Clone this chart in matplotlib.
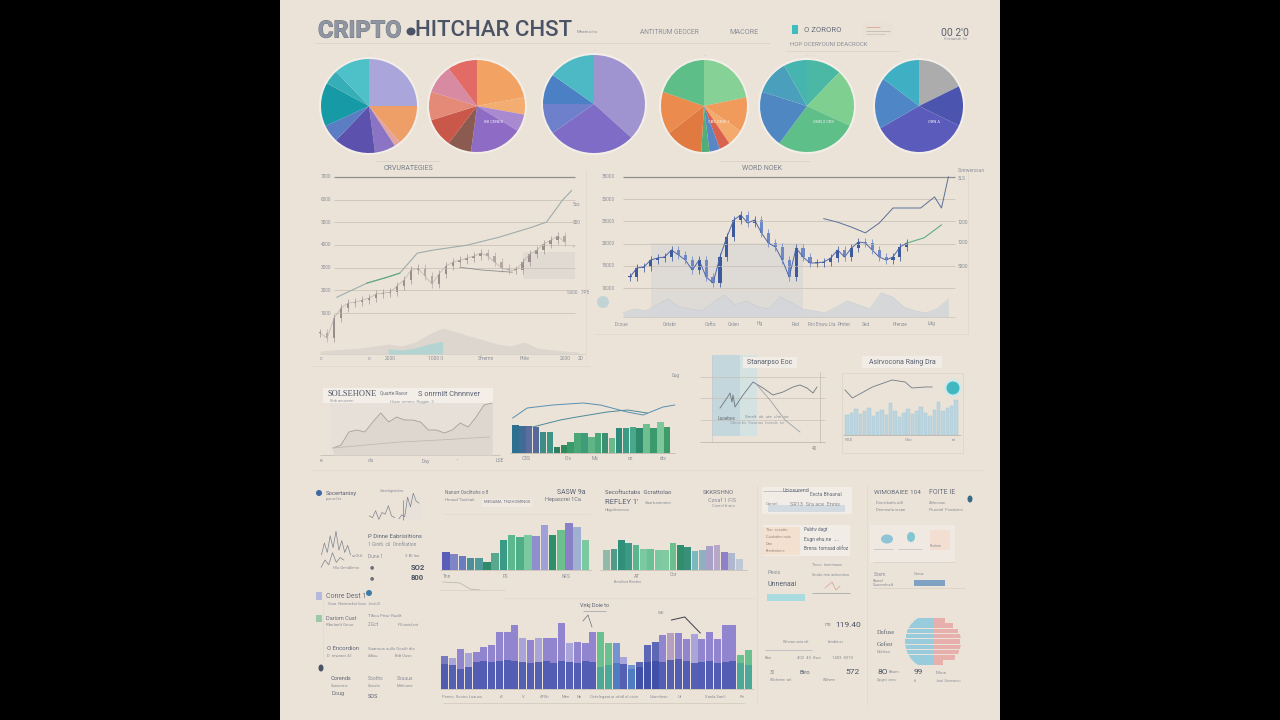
import matplotlib
matplotlib.use("Agg")
import matplotlib.pyplot as plt
from matplotlib import patheffects
from matplotlib.patches import Circle, Ellipse, Rectangle
import numpy as np

plt.rcParams["font.family"] = ["Roboto", "DejaVu Sans"]

W, H = 1280, 720
PAPER = "#ebe3d8"
INK = "#4b5366"
SOFT = "#8a8e98"
RULE = "#d2cabf"

# ---------------- data ----------------
# six pies, wedges listed clockwise from 12 o'clock
PIE_SHARES = [
    [25, 14, 2, 7, 14, 6, 15, 5, 12],
    [22, 6, 6, 18, 8, 10, 10, 10, 10],
    [37, 28, 10, 10, 15],
    [22, 12, 6, 4, 4, 3, 14, 15, 20],
    [12, 20, 28, 20, 12, 8],
    [18, 14, 35, 18, 15],
]
PIE_COLORS = [
    ["#aaa5da", "#ee9f68", "#e2a4a0", "#8c74c4", "#5c52ad", "#5a7dc4", "#169ba6", "#36aeb8", "#4ec0c8"],
    ["#f2a364", "#f3ad70", "#a98ad0", "#8e6cc6", "#8b5a50", "#c9574a", "#e58a76", "#d88aa3", "#e26b66"],
    ["#a094d0", "#7e6cc6", "#6e7fcc", "#4b80c4", "#4cb9c5"],
    ["#86d195", "#f09a5c", "#f3aa6c", "#d9624e", "#5a86c6", "#4fae7a", "#e07a40", "#eb8b4e", "#5dbf87"],
    ["#4ab8a5", "#7fcf90", "#5fbf88", "#4f87c2", "#4a9fbc", "#46b5b0"],
    ["#acacac", "#4b55b0", "#5b5bbb", "#4f86c6", "#3fb0c4"],
]
PIE_TAGS = ["", "INI CENES", "", "CBS ONIS 3", "ONN 2 CRS", "ORN A"]

# chart 1 (left price chart): daily closes, trend line, volume
LEVELS1 = [1000, 2000, 3000, 4000, 5000, 6000, 7000]
CLOSE1 = [120, -100, 780, 1220, 1440, 1480, 1570, 1660, 1840, 1880, 1920, 2190,
          2450, 2890, 2980, 2630, 2280, 2720, 3070, 3240, 3330, 3420, 3510, 3640,
          3510, 3240, 2980, 2890, 2890, 3240, 3600, 3770, 4040, 4210, 4390, 4120]
TREND1_DAY = [2.4, 6.7, 9.6, 11.4, 13.9, 16.1, 21, 25.7, 30.4, 32.4, 34.7, 36]
TREND1 = [1700, 2320, 2580, 2760, 3640, 3770, 3990, 4350, 4790, 5010, 5980, 6400]
LOW1_DAY = [20, 23, 27.5]
LOW1 = [3020, 2900, 2800]
VOL1 = [130, 180, 220, 260, 350, 440, 350, 530, 880, 1140, 970, 790, 620, 440, 350, 530, 260, 180, 130, 90]

# chart 2 (right price chart)
LEVELS2 = [10000, 15000, 20000, 25000, 30000, 35000]
CLOSE2 = [12480, 14500, 14730, 16300, 16750, 16980, 18550, 17430, 16300, 14050, 16300,
          12480, 11130, 16980, 21480, 25300, 26430, 24630, 25300, 22380, 20130, 19230,
          16300, 12480, 19000, 16980, 15630, 15630, 15850, 16750, 18550, 16980, 19000,
          20350, 20130, 18550, 16980, 16300, 16980, 19230, 20130]
TREND2_DAY = [28, 30, 32, 34, 36, 38, 42, 44, 45, 46]
TREND2 = [25600, 24800, 23700, 22400, 24600, 28000, 28000, 30500, 28000, 35000]
GREEN2_DAY = [40, 42.5, 45]
GREEN2 = [20100, 21300, 24200]
VOL2 = [900, 1800, 1350, 2700, 4000, 2250, 1800, 1350, 3150, 4950, 2700, 3600, 2250, 1800, 4500,
        3150, 1800, 1350, 900, 2250, 3600, 2700, 1800, 5400, 4500, 2250, 1350, 900, 1800, 4050]
VOL2_BASE = 3500

# middle row
AREA_A = [7, 10, 23, 25, 23, 33, 42, 33, 38, 35, 35, 33, 25, 25, 22, 25, 32, 28, 38, 50, 52]
LOW_A_DAY = [0, 8.4, 13.4, 19.7]
LOW_A = [7, 13, 15, 18]

BARS_B = [28, 27, 27, 26, 21, 21, 6, 8, 11, 20, 20, 16, 20, 20, 15, 25, 25, 26, 25, 29, 25, 31, 26]
LINE_B1_DAY = [-0.4, 1.7, 5.4, 9.8, 12.3, 16.2, 18.5, 21.4, 23.1]
LINE_B1 = [35, 45, 48, 50, 48, 41, 38, 46, 48]
LINE_B2_DAY = [2.5, 6.5, 8.9, 13.3, 16.2, 19.1]
LINE_B2 = [26, 33, 36, 41, 43, 40]

LINE_C_T = [0, 1.4, 2, 2.4, 2.6, 3, 4.6, 6.6, 8.6, 10.6, 12.6, 14.6, 16, 17.4, 18.6, 19.4]
LINE_C = [37, 47, 52, 43, 50, 38, 50, 63, 57, 50, 53, 58, 60, 57, 52, 58]
DESC_C_T = [7.4, 10, 13, 16]
DESC_C = [60, 45, 25, 13]

BARS_D = [20, 22, 26, 21, 24, 27, 19, 23, 25, 20, 32, 24, 18, 22, 26, 21, 24, 28, 22, 19, 25, 33, 24, 27, 29, 35]
LINE_D_T = [-0.5, 1.2, 5.8, 10.3, 13.3, 14.9, 17.9, 19.5]
LINE_D = [45, 37, 48, 55, 53, 47, 48, 48]

# bottom bar charts
BARS_E = [18, 16, 14, 12, 12, 8, 17, 30, 35, 33, 35, 34, 45, 35, 40, 47, 43, 30]
BARS_F = [20, 21, 30, 27, 25, 21, 21, 20, 20, 27, 25, 23, 19, 20, 24, 25, 18, 17, 11]
BARS_G = [33, 31, 40, 36, 37, 42, 44, 57, 57, 64, 51, 49, 51, 51, 51, 66, 46, 47, 46, 57,
          57, 46, 46, 32, 24, 27, 44, 47, 54, 56, 56, 50, 55, 50, 57, 50, 64, 64, 34, 39]
BARS_G_BASE = [25, 24, 20, 22, 27, 28, 27, 28, 29, 28, 27, 26, 27, 28, 26, 28, 27, 26, 28, 27,
               22, 24, 26, 25, 20, 22, 27, 28, 27, 29, 30, 28, 26, 27, 28, 26, 27, 28, 26, 24]
PEAK_G_DAY = [29.1, 30.8, 32.8]
PEAK_G = [69, 72, 56]

SPARKS = [
    [4, 9, 5, 12, 7, 14, 6, 10, 5, 8, 4],
    [6, 5, 9, 4, 8, 7, 12, 6, 5],
    [3, 5, 4, 14, 9, 16, 12, 11],
    [3, 6, 4, 9, 5, 7, 6],
]
STRIPE_BLUE = [22, 26, 27, 28, 28, 27, 26, 24, 20]
STRIPE_PINK = [10, 22, 26, 28, 27, 28, 25, 20, 12]

# ---------------- colours per bar ----------------
COL_B = ["#2d6f8f", "#3f6b96", "#5b6d9c", "#58689a", "#3e8c86", "#3f9488", "#2f7d62", "#2f8a5c",
         "#3b9a6a", "#4aa877", "#3f9c7a", "#5fb585", "#48a878", "#3a9070", "#6ab98a", "#2e8a7a",
         "#3d9a84", "#4aa88a", "#2e8a6a", "#6cc08f", "#3a9a6e", "#7dc89a", "#3f9c6a"]
COL_E = ["#5a5eb8", "#7f86c8", "#6a7cc0", "#4a8f9a", "#4f9a9a", "#2f8a6a", "#58a890", "#3a9a85",
         "#5cb88e", "#4fae86", "#7ac9a0", "#8f8fd0", "#a0a0d8", "#2e8f6a", "#6bc08e", "#8a80c8",
         "#a0b0d0", "#7ac9a0"]
COL_F = ["#8fbcaa", "#4f9a8a", "#2f8f78", "#3a9a85", "#5ab590", "#7ac9a0", "#6cc096", "#7ac9a0",
         "#80cba4", "#6bc08e", "#2e8f6a", "#3a8f7a", "#7ab9c0", "#8fb0c0", "#a8a0c8", "#b8a8c8",
         "#9080c8", "#b0b8d0", "#c0c8d8"]
_P, _L, _G, _S, _K, _D = "#8d80d0", "#a7a2d9", "#62c08c", "#6f8fcf", "#b49cc0", "#5560b4"
COL_G = ["#6f74c0", _L, _P, _L, _P, _P, _P, _P, _P, _P, _L, _P, _L, _P, _P, _P, _L, _P, _P, _P,
         _G, _G, _S, _L, _S, _D, _D, _D, _P, _K, _P, _P, _L, _P, _P, _P, _P, _P, _G, _G]
BASE_OF = {_G: "#47a79a", _S: "#4a7cc0", _D: "#3d4ea8"}

# ---------------- figure ----------------
fig = plt.figure(figsize=(W / 100, H / 100), dpi=100, facecolor="black")
board = fig.add_axes([280 / W, 0, 720 / W, 1])
board.set_xlim(280, 1000)
board.set_ylim(720, 0)
board.axis("off")
board.add_patch(Rectangle((280, 0), 720, 720, color=PAPER, lw=0, zorder=0))


def panel(x0, y0, x1, y1):
    ax = fig.add_axes([x0 / W, 1 - y1 / H, (x1 - x0) / W, (y1 - y0) / H])
    ax.set_facecolor("none")
    ax.axis("off")
    return ax


def note(x, y, s, size=4.5, color=SOFT, **kw):
    kw.setdefault("va", "center")
    board.text(x, y, s, fontsize=size, color=color, **kw)


def hline(x0, x1, y, color=RULE, lw=0.6):
    board.plot([x0, x1], [y, y], color=color, lw=lw, solid_capstyle="butt")


def vline(x, y0, y1, color=RULE, lw=0.6):
    board.plot([x, x], [y0, y1], color=color, lw=lw, solid_capstyle="butt")


def card(x0, y0, x1, y1, color="#f2ede6", **kw):
    board.add_patch(Rectangle((x0, y0), x1 - x0, y1 - y0, color=color, lw=0, **kw))


def candles(ax, closes, col_up, col_dn, body, wick, width=0.5, lw=0.6):
    for i, c in enumerate(closes):
        o = closes[i - 1] if i else c
        lo, hi = min(o, c), max(o, c)
        col = col_up if c >= o else col_dn
        ax.vlines(i, lo - wick, hi + wick, color=col, lw=lw)
        ax.add_patch(Rectangle((i - width / 2, lo), width, max(hi - lo, body), color=col, lw=0))


# ---------------- header ----------------
title = board.text(318, 31, "CRIPTO", fontsize=17, fontweight="bold", color="#8f95a1", va="center")
title.set_path_effects([patheffects.withStroke(linewidth=0.7, foreground="#6d7582")])
board.add_patch(Ellipse((411, 31.5), 9, 8, color="#4b5366", lw=0))
board.text(415, 31, "HITCHAR CHST", fontsize=16, fontweight="medium", color="#4b5366", va="center")
hline(315, 770, 43, color="#ddd5ca", lw=0.8)
note(577, 32, "Mnatns/no", 3.2)
note(640, 32, "ANTITRUM GEOCER", 4.8)
note(729, 32, "MACORE", 5.2)
card(792, 25, 798, 34, color="#3fbcc0")
note(804, 30, "O ZORORO", 5.5, color="#6a6f7c")
card(862, 23, 893, 37, color="#e9e1d6")
hline(866, 880, 27, color="#d99a8a", lw=0.5)
hline(866, 890, 31, color="#b8b2aa", lw=0.5)
hline(866, 885, 34, color="#c9c2b8", lw=0.5)
note(790, 45, "HOP OCER", 4.3)
note(818, 45, "YOUNI DEACROCK", 4.3)
hline(785, 900, 51, color="#ddd5ca", lw=0.6)
note(941, 33, "00 2'0", 7.5, color="#5b6272")
note(944, 39, "Hoiruwnsh 1in", 2.6)

# ---------------- pies ----------------
PIE_BOXES = [(369, 106, 48, 47), (477, 106, 48, 46), (594, 104, 51, 49),
             (704, 106, 43, 46), (807, 106, 47, 46), (919, 106, 44, 46)]
for (cx, cy, rx, ry), shares, cols, tag in zip(PIE_BOXES, PIE_SHARES, PIE_COLORS, PIE_TAGS):
    board.add_patch(Ellipse((cx, cy), 2 * rx + 4, 2 * ry + 4, color="#f3eee8", lw=0))
    ax = panel(cx - rx, cy - ry, cx + rx, cy + ry)
    ax.pie(shares, colors=cols, startangle=90, counterclock=False,
           wedgeprops={"linewidth": 0})
    ax.set_aspect("auto")
    ax.set_xlim(-1, 1)
    ax.set_ylim(-1, 1)
    if tag:
        ax.text(0.35, -0.35, tag, fontsize=3, color="#f4f0f6", ha="center", va="center")
    note(cx, cy - ry - 4, "\u2014", 3, color="#c9c1b6", ha="center")

# ---------------- chart 1 ----------------
note(408, 168, "CRVURATEGIES", 5, color="#7a808c", ha="center")
hline(375, 440, 161, color="#d8d0c5", lw=0.5)
ax1 = panel(318, 170, 585, 354)
ax1.set_xlim(-0.3, 37.9)
ax1.set_ylim(-800, 7300)
for lvl in LEVELS1:
    top = lvl == LEVELS1[-1]
    ax1.hlines(lvl, 2, 36.5, color="#8f8f90" if top else "#cbc3b8", lw=0.9 if top else 0.6)
    ax1.text(0.1, lvl, f"{lvl}", fontsize=3.4, color=SOFT, va="center")
vol_x = np.linspace(0, 37, len(VOL1))
ax1.fill_between(vol_x, -800, np.array(VOL1) - 800, color="#dcd6ce", lw=0)
ax1.fill_between(vol_x[5:10], -800, np.array(VOL1[5:10]) * 0.5 - 800, color="#a9d4d2", lw=0, alpha=0.8)
ax1.fill_between([29, 36.5], 2500, 3700, color="#e0dad2", lw=0)
ax1.plot(range(len(CLOSE1)), CLOSE1, color="#bdb3af", lw=0.5)
candles(ax1, CLOSE1, "#9a8f8c", "#b3a6a3", body=60, wick=170, width=0.4, lw=0.45)
ax1.plot(TREND1_DAY, TREND1, color="#9fadab", lw=0.8)
ax1.plot(TREND1_DAY[1:4], TREND1[1:4], color="#5eaa80", lw=0.8)
ax1.plot(LOW1_DAY, LOW1, color="#8d8d8d", lw=0.6)
for x, y, s in [(573, 204, "5ss"), (573, 223, "500"), (573, 247, "\u2022"), (567, 292, "5000   7P5")]:
    note(x, y, s, 3.4)
for x, s in [(320, "c"), (368, "c\u00b7"), (385, "2000"), (428, "1000 ll"), (478, "Sfremn"), (520, "Ptile"),
             (560, "2000"), (578, "2D")]:
    note(x, 359, s, 3.6)
hline(320, 585, 354, color="#cfc7bc", lw=0.5)
hline(312, 590, 366, color="#ddd5ca", lw=0.5)
vline(586, 170, 360, color="#e0d8cd", lw=0.5)

# ---------------- chart 2 ----------------
note(762, 168, "WORD NOEK", 5, color="#7a808c", ha="center")
hline(720, 810, 161, color="#d8d0c5", lw=0.5)
note(958, 170, "Sorrwerssun", 3.4)
ax2 = panel(600, 170, 965, 325)
ax2.set_xlim(-4.33, 48.4)
ax2.set_ylim(1675, 36550)
for lvl in LEVELS2:
    top = lvl == LEVELS2[-1]
    ax2.hlines(lvl, -1, 47, color="#8f8f90" if top else "#cbc3b8", lw=0.9 if top else 0.6)
    ax2.text(-4.1, lvl, f"{lvl}", fontsize=3.4, color=SOFT, va="center")
ax2.fill_between([3, 25], 3500, 20100, color="#dbd8d5", lw=0, alpha=0.8)
vol2_x = np.linspace(-1, 46, len(VOL2))
ax2.fill_between(vol2_x, VOL2_BASE, np.array(VOL2) + VOL2_BASE, color="#d3d6da", lw=0, alpha=0.9)
ax2.plot(vol2_x, np.array(VOL2) + VOL2_BASE, color="#c3cad3", lw=0.4)
ax2.hlines(VOL2_BASE, -1, 47, color="#cbc3b8", lw=0.5)
ax2.plot(range(len(CLOSE2)), CLOSE2, color="#4f67aa", lw=0.7)
candles(ax2, CLOSE2, "#3d5a9e", "#6f88c6", body=300, wick=900, width=0.45, lw=0.55)
ax2.plot(TREND2_DAY, TREND2, color="#5b6f98", lw=0.7)
ax2.plot(GREEN2_DAY, GREEN2, color="#5fae80", lw=0.8)
for x, y, s in [(958, 178, "3LS"), (958, 222, "1200"), (958, 243, "1200"), (958, 266, "5000")]:
    note(x, y, s, 3.4)
for x, s in [(615, "Dcoue"), (663, "Cetsbr"), (705, "Cafto"), (728, "Oxlen"), (757, "Hg"),
             (792, "Fed"), (808, "Rni Enwu Lta"), (838, "Pmter"), (862, "Sed"), (893, "Prenze"), (928, "Ldg")]:
    note(x, 324, s, 3.4)
board.add_patch(Circle((603, 302), 6, color="#b7d0d4", lw=0, alpha=0.8))
hline(595, 968, 334, color="#ddd5ca", lw=0.5)
vline(968, 172, 334, color="#ddd5ca", lw=0.5)

# ---------------- middle row ----------------
# A: area sketch with header boxes
card(323, 388, 493, 403, color="#f3eee7")
card(330, 403, 493, 452, color="#e6e0d8")
board.text(327, 394, "SOLSEHONE", fontsize=6, color="#4b5366", va="center", family=["Liberation Serif", "DejaVu Serif"])
note(380, 393, "Quarte Ravor", 3.4, color="#6a6f7c")
note(418, 394, "S onrrnilt Chnnnver", 5.3, color="#5b6272")
note(330, 401, "Rnb aeuvenn", 3, color="#9a9ea8")
note(390, 402, "Hiaar  nnrnns  Rrggan  3", 3, color="#9a9ea8")
axA = panel(320, 400, 500, 458)
axA.set_xlim(-1.64, 21)
axA.set_ylim(-3, 55)
axA.fill_between(range(len(AREA_A)), 0, AREA_A, color="#ddd7cf", lw=0)
axA.plot(range(len(AREA_A)), AREA_A, color="#a59e99", lw=0.6)
axA.plot(LOW_A_DAY, LOW_A, color="#c2bbb3", lw=0.6)
hline(320, 500, 455, color="#c0b8ad", lw=0.5)
for x, s in [(320, "e"), (368, "cls"), (422, "Day"), (457, "\u02bb"), (496, "LSE")]:
    note(x, 461, s, 3.6)

# B: bars with two lines
note(672, 375, "0ug", 3.4)
axB = panel(510, 400, 680, 455)
axB.set_xlim(-0.79, 23.85)
axB.set_ylim(-2, 53)
axB.bar(range(len(BARS_B)), BARS_B, width=0.92, color=COL_B, lw=0)
axB.plot(LINE_B1_DAY, LINE_B1, color="#5a8fb0", lw=0.7)
axB.plot(LINE_B2_DAY, LINE_B2, color="#4a8a9a", lw=0.7)
hline(510, 675, 453, color="#b8b0a5", lw=0.5)
for x, s in [(522, "C5S"), (565, "Cls"), (592, "Ms"), (628, "cn"), (660, "\u00e9ts")]:
    note(x, 459, s, 3.6)

# C: shaded line sketch
card(712, 355, 740, 436, color="#c4d7dc")
card(740, 355, 757, 436, color="#d5e2e2")
for y in (377, 398, 420):
    hline(700, 825, y, color="#c8c0b6", lw=0.5)
vline(712, 355, 442, color="#c9c9c9", lw=0.5)
vline(820, 372, 442, color="#c0b8ad", lw=0.5)
card(743, 357, 797, 368, color="#f1ece5")
note(770, 362, "Stanarpso Eoc", 5, color="#5b6272", ha="center")
axC = panel(700, 355, 825, 445)
axC.set_xlim(-4, 21)
axC.set_ylim(0, 90)
axC.plot(LINE_C_T, LINE_C, color="#6e7680", lw=0.6)
axC.plot(DESC_C_T, DESC_C, color="#9aa2a8", lw=0.6)
note(718, 418, "Laoebes", 3.4, color="#6a6f7c")
note(745, 417, "Srnelt  ok  ute  uhn  tor", 3.2, color="#8a8e98")
note(730, 423, "Obnai bs  Ouwnas  fonnde  tcr", 3.0, color="#9a9ea8")
hline(700, 825, 442, color="#b8b0a5", lw=0.5)
note(812, 448, "40", 3.4)

# D: light bars with circle
card(862, 356, 942, 368, color="#f1ece5")
note(902, 362, "Asirvocona Raing Dra", 5, color="#5b6272", ha="center")
board.add_patch(Rectangle((842, 373), 121, 80, fill=False, edgecolor="#ddd5ca", lw=0.6))
axD = panel(842, 373, 963, 453)
axD.set_xlim(-1.19, 26.6)
axD.set_ylim(-18, 62)
axD.bar(range(len(BARS_D)), BARS_D, width=0.8, color="#bcd6df", edgecolor="#a6c6d4", lw=0.3)
axD.plot(LINE_D_T, LINE_D, color="#707a85", lw=0.6)
axD.hlines(0, -1, 26.2, color="#b8b0a5", lw=0.5)
board.add_patch(Circle((953, 388), 9, color="#cfe9ea", lw=0))
board.add_patch(Circle((953, 388), 6.5, color="#3fb8c0", lw=0))
note(845, 440, "PAS", 3.2)
note(905, 440, "Cho", 3.2)
note(952, 440, "nt", 3.2)
hline(310, 985, 470, color="#e0d8cd", lw=0.5)

# ---------------- bottom-left notes ----------------
board.add_patch(Circle((319, 493), 3, color="#3d6aa0", lw=0))
note(326, 493, "Socertanisy", 4.3, color="#5b6272")
note(326, 499, "ponsrl lis", 2.8)
note(380, 491, "Uiaertigerioles", 2.8)
spark_boxes = [(320, 530, 352, 556), (368, 505, 396, 520), (398, 492, 420, 520), (320, 552, 345, 568)]
for (x0, y0, x1, y1), vals in zip(spark_boxes, SPARKS):
    axs = panel(x0, y0, x1, y1)
    axs.plot(range(len(vals)), vals, color="#7d838e", lw=0.5)
vline(403, 500, 520, color="#8f8f90", lw=0.6)
card(404, 497, 421, 520, color="#e7e1d9")
note(368, 536, "P Dinne Eabrisiitions", 4.2, color="#5b6272")
note(368, 545, "1 Giniti. cil  Onnfilation", 3.5)
note(368, 556, "Dune 1", 3.4)
note(405, 556, "3 Bl Inn", 3.2)
note(352, 556, "soOUt", 3)
note(333, 568, "Hlu Onndilnno", 3)
note(370, 567, "\u25cf", 3.5, color="#6a6f7c")
note(370, 578, "\u25cf", 3.5, color="#6a6f7c")
note(411, 567, "SO2", 5.5, color="#4b5366", fontweight="bold")
note(411, 578, "800", 5.5, color="#4b5366", fontweight="bold")
card(316, 592, 322, 600, color="#b6b8dc")
note(326, 596, "Conre Dest 1", 5, color="#6a6f7c")
board.add_patch(Circle((369, 593), 3, color="#3d7aa8", lw=0))
note(328, 604, "Goar  Ninimarkot lissn  Jeolulll", 2.8)
card(316, 615, 322, 622, color="#9ccaa8")
note(326, 618, "Dariom Cust", 4, color="#6a6f7c")
note(326, 625, "Rbnlanlt Gnuo", 3.2)
note(368, 616, "Tlbou Pnwr Rudit", 3.2)
note(368, 625, "2.Gct", 3.4)
note(398, 625, "Pl/owinlsnt", 3)
note(327, 649, "O Encordion", 4.2, color="#5b6272")
note(327, 656, "D  nrwanci 4'l", 3)
note(368, 649, "Suanous sulls Gosilt dis", 3.2)
note(368, 656, "Adluu", 3)
note(395, 656, "Bdt Ousn", 3)
board.add_patch(Ellipse((321, 668), 5, 7, color="#4b5366", lw=0))
note(331, 679, "Oorends", 4, color="#5b6272")
note(331, 686, "Suniorms", 3)
note(331, 694, "Doug", 4, color="#6a6f7c")
note(368, 679, "Sooths", 3.6)
note(368, 686, "Soosts", 3)
note(397, 679, "Ssuuus", 3.6)
note(397, 686, "Mnfiurne", 3)
note(368, 697, "SOS", 4, color="#5b6272")
vline(323, 600, 660, color="#e2dad0", lw=0.5)

# ---------------- bottom bar charts ----------------
note(445, 493, "Nanorr Oxclitohs o 8", 3.4, color="#6a6f7c")
note(445, 500, "Hnaud Tasfcalr", 3.2)
card(482, 499, 532, 507, color="#efe9e1")
note(484, 502, "MEGAMA  TNZHOMINGS", 3, color="#6a6f7c")
note(557, 492, "SASW 9a", 5, color="#5b6272")
note(545, 500, "Hepascrei 1Ca", 4, color="#6a6f7c")
hline(442, 590, 514, color="#e2dad0", lw=0.5)
axE = panel(440, 515, 592, 572)
axE.set_xlim(-0.74, 17.8)
axE.set_ylim(-2, 55)
axE.bar(range(len(BARS_E)), BARS_E, width=0.92, color=COL_E, lw=0)
axE.hlines(0, -0.74, 17.8, color="#c3bbb0", lw=0.5)
note(443, 577, "Tnn", 3.4)
note(503, 577, "FS", 3.4)
note(562, 577, "NFS", 3.4)
board.plot([443, 460, 470, 480], [582, 583, 589, 590], color="#b5b0aa", lw=0.5)
hline(440, 505, 590, color="#d8d0c5", lw=0.5)

note(605, 493, "Secoftuctabs  Gcrattolao", 4.3, color="#5b6272")
note(605, 502, "REFLEY 1'", 5.5, color="#5b6272")
note(645, 503, "Sasrtunnnnnn", 3.2)
note(605, 510, "Hbgsilenncsss", 2.8)
note(703, 492, "SKKRSHNO", 4.3, color="#6a6f7c")
note(708, 500, "Cznaf 1 FIS", 4, color="#8a8e98")
note(712, 506, "Coenil tt wio", 3)
axF = panel(600, 515, 748, 572)
axF.set_xlim(-0.9, 19.2)
axF.set_ylim(-2, 55)
axF.bar(range(len(BARS_F)), BARS_F, width=0.92, color=COL_F, lw=0)
axF.hlines(0, -0.9, 19.2, color="#c3bbb0", lw=0.5)
note(634, 577, "AT", 3.4)
note(670, 575, "Cor", 3.4)
note(614, 582, "Breslloxt Rinstno", 2.6)
hline(505, 755, 598, color="#e0d8cd", lw=0.5)

note(580, 605, "Vnkj Doie to", 4, color="#5b6272")
hline(583, 606, 611, color="#9a9ea8", lw=0.5)
board.plot([583, 588, 592], [621, 615, 627], color="#6a6f7c", lw=0.5)
note(658, 613, "W6'", 3.2)
axG = panel(440, 605, 754, 692)
axG.set_xlim(-0.63, 39.7)
axG.set_ylim(-3, 84)
axG.bar(range(len(BARS_G)), BARS_G, width=0.9, color=COL_G, lw=0, alpha=0.95)
axG.bar(range(len(BARS_G)), BARS_G_BASE, width=0.9,
        color=[BASE_OF.get(c, "#4c59b0") for c in COL_G], lw=0, alpha=0.9)
axG.plot(PEAK_G_DAY, PEAK_G, color="#3a3d4a", lw=0.7)
axG.hlines(0, -0.63, 39.7, color="#c3bbb0", lw=0.5)
for x, s in [(442, "Peeeo  Soctro Lsauns"), (500, "f2"), (522, "V"), (540, "AFSh"), (562, "Men"),
             (577, "Nn"), (590, "Ovfelegaat ur ofidl ol cicie"), (650, "Urunnlnsn"), (678, "Ut"),
             (705, "Sanla Sanli"), (740, "Pn")]:
    note(x, 697, s, 3)
hline(443, 745, 703, color="#cfc7bc", lw=0.5)

# ---------------- right column ----------------
vline(757, 485, 705, color="#e0d8cd", lw=0.5)
vline(867, 485, 705, color="#e0d8cd", lw=0.5)
card(762, 487, 852, 514, color="#f1ece5")
hline(763, 800, 491, color="#aeb1b8", lw=0.5)
note(783, 490, "Uciosurend", 3.8, color="#5b6272")
note(810, 494, "Eecta Bhaanal", 3.6, color="#6a6f7c")
note(766, 504, "Carsnl", 3.2)
note(790, 504, "SR13  Sra ace  Ennis", 4, color="#8a8e98")
card(768, 505, 845, 512, color="#d3dbe0")
card(763, 525, 850, 556, color="#f1ece5")
card(763, 527, 800, 555, color="#f4ddc9", alpha=0.8)
for i, s in enumerate(["Tbn  scsatto", "Guuhahm nuis", "Dan", "Bnnilmtone"]):
    note(766, 530 + 7 * i, s, 2.8, color="#9a8e86")
note(804, 529, "Pubhv dagt", 3.3, color="#5b6272")
note(804, 539, "Eugn ehu.ne  ....", 3.6, color="#5b6272")
note(804, 549, "Brnna  tornsad olifoz", 3.4, color="#5b6272")
note(768, 572, "Pesis", 4, color="#8a8e98")
note(768, 585, "Unnenaai", 5, color="#5b6272")
card(767, 594, 805, 601, color="#a9dbe0")
note(812, 565, "Tinco  Iomntnaso", 2.8)
note(812, 575, "Snvdo moi aclnontioo", 2.8)
hline(812, 850, 593, color="#9a9ea8", lw=0.5)
board.plot([825, 832, 836, 840], [588, 582, 590, 586], color="#d9a08a", lw=0.5)
note(825, 625, "ms", 3.4)
note(835, 625, "119.40", 6, color="#4b5366")
note(783, 642, "Wnnan snia olt", 2.8)
note(828, 642, "Iatnbinsi", 3)
hline(765, 812, 650, color="#b0b3ba", lw=0.5)
note(765, 658, "Bnn", 3)
note(797, 658, "402  45  Swe", 3)
note(832, 658, "1403  8370", 3)
note(770, 672, "30", 3.4)
note(800, 672, "Biro", 4.3, color="#5b6272")
note(845, 672, "572", 6, color="#4b5366")
note(770, 680, "Wlvheme  wtl", 2.6)
note(823, 680, "Wilfsmn", 2.6)

note(874, 493, "WIMOBAIEE 104", 4.6, color="#6a6f7c")
note(929, 493, "FOITE IE", 5, color="#6a6f7c")
board.add_patch(Ellipse((970, 499), 5, 7, color="#3b6a88", lw=0))
note(876, 503, "Dona butts will", 3)
note(876, 510, "Dnmnurla orsan", 3)
note(929, 503, "Ahlnonun", 3)
note(929, 510, "Fluoratl  Pnodomn", 3)
card(870, 525, 955, 562, color="#efe9e1")
board.add_patch(Ellipse((887, 539), 12, 9, color="#8fc3d8", lw=0))
board.add_patch(Ellipse((911, 537), 8, 10, color="#82c6d2", lw=0))
card(930, 530, 950, 550, color="#f3ded2")
hline(873, 893, 549, color="#b0b3ba", lw=0.4)
hline(898, 922, 549, color="#b0b3ba", lw=0.4)
note(930, 546, "Pnulnm", 2.6)
hline(873, 955, 562, color="#d8d0c5", lw=0.5)
note(874, 574, "Sosm", 3.4)
note(873, 581, "Rbwcl", 3)
note(873, 585, "Suoomlnslt", 3)
note(914, 574, "Gonw", 3)
card(914, 580, 945, 586, color="#7fa2c3")
hline(872, 965, 588, color="#d2cabf", lw=0.4)

note(877, 633, "Dofuse", 4.5, color="#5b6272", family=["Liberation Serif", "DejaVu Serif"])
note(877, 644, "Gofsst", 4.5, color="#5b6272", family=["Liberation Serif", "DejaVu Serif"])
note(877, 652, "Dslnhsn", 2.8)
axS = panel(903, 615, 963, 668)
axS.set_xlim(-30, 30)
axS.set_ylim(-1, len(STRIPE_BLUE))
clip = Ellipse((0, len(STRIPE_BLUE) / 2 - 0.5), 56, len(STRIPE_BLUE) + 1.5, transform=axS.transData)
rows = range(len(STRIPE_BLUE))
bb = axS.barh(rows, [-v for v in STRIPE_BLUE], height=0.85, color="#8fc9dc", lw=0, alpha=0.9)
pp = axS.barh(rows, STRIPE_PINK, height=0.85, color="#e7a7a6", lw=0, alpha=0.85)
for bar in list(bb) + list(pp):
    bar.set_clip_path(clip)
note(877, 672, "8O", 6, color="#4b5366")
note(889, 672, "Bnum", 3)
note(877, 680, "Apgnt  snnc", 2.6)
note(914, 672, "99", 6, color="#4b5366")
note(914, 681, "6", 3)
note(936, 673, "Mone", 3.2)
note(936, 681, "Jeal  Scmnsnoi", 2.6)

fig.savefig("out.png", dpi=100, facecolor="black")
